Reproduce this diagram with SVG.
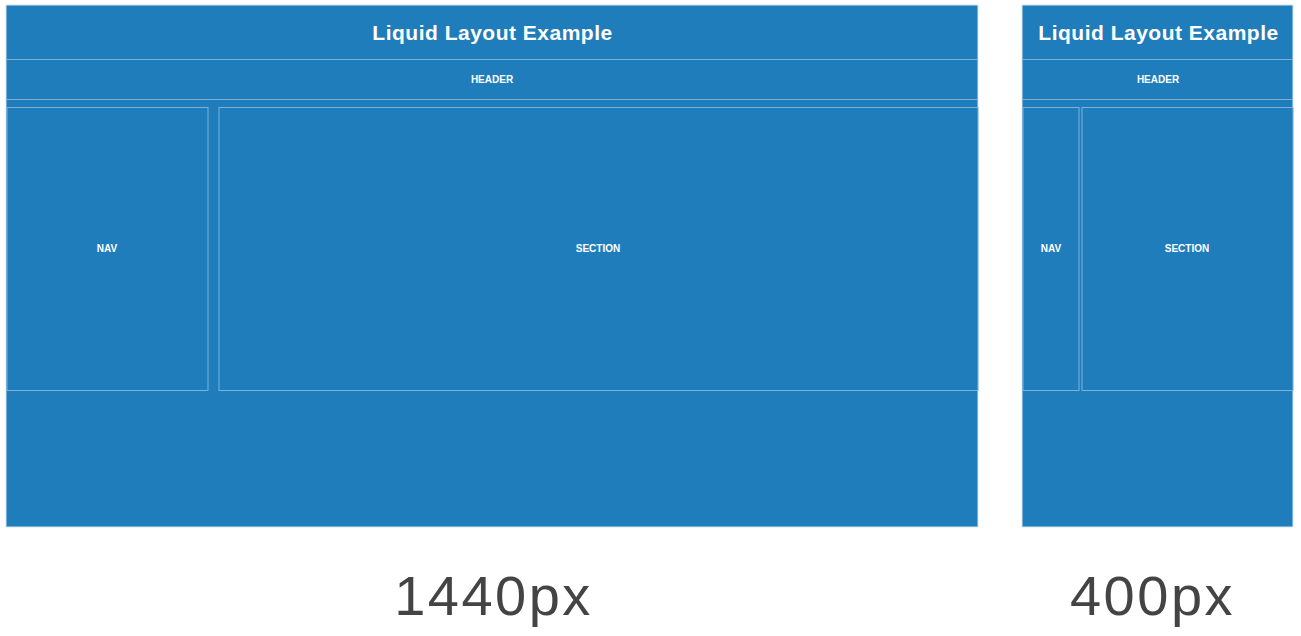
<svg xmlns="http://www.w3.org/2000/svg" width="1301" height="636" viewBox="0 0 1301 636">
<style>
.panel{fill:#1f7dbb;stroke:#d8e6f0;stroke-width:1}
.box{fill:#1f7dbb;stroke:#7fb2da;stroke-width:1}
.line{stroke:#7fb2da;stroke-width:1.2}
.title{font-family:"Liberation Sans",Arial,sans-serif;font-weight:bold;font-size:21px;letter-spacing:0.5px;fill:#ffffff;text-anchor:middle}
.small{font-family:"Liberation Sans",Arial,sans-serif;font-weight:bold;font-size:10px;fill:#ffffff;text-anchor:middle}
.big{font-family:"Liberation Sans",Arial,sans-serif;font-size:56px;letter-spacing:2.5px;fill:#444444;text-anchor:middle}
</style>
<rect width="1301" height="636" fill="#ffffff"/>
<g id="panel-1440">
<rect class="panel" x="6" y="5" width="972" height="522"/>
<line class="line" x1="6" y1="59.5" x2="978" y2="59.5"/>
<line class="line" x1="6" y1="99.5" x2="978" y2="99.5"/>
<text class="title" x="492.5" y="40">Liquid Layout Example</text>
<text class="small" x="492" y="83">HEADER</text>
<rect class="box" x="7" y="107.5" width="201" height="283"/>
<text class="small" x="107" y="252">NAV</text>
<rect class="box" x="219" y="107.5" width="759" height="283"/>
<text class="small" x="598" y="252">SECTION</text>
</g>
<g id="panel-400">
<rect class="panel" x="1022" y="5" width="271" height="522"/>
<line class="line" x1="1022" y1="59.5" x2="1293" y2="59.5"/>
<line class="line" x1="1022" y1="99.5" x2="1293" y2="99.5"/>
<text class="title" x="1158.5" y="40">Liquid Layout Example</text>
<text class="small" x="1158" y="83">HEADER</text>
<rect class="box" x="1023" y="107.5" width="56" height="283"/>
<text class="small" x="1051" y="252">NAV</text>
<rect class="box" x="1082" y="107.5" width="211" height="283"/>
<text class="small" x="1187" y="252">SECTION</text>
</g>
<g id="labels">
<text class="big" x="493.5" y="615">1440px</text>
<text class="big" x="1152.5" y="615">400px</text>
</g>
<g id="connectors"></g>
</svg>
